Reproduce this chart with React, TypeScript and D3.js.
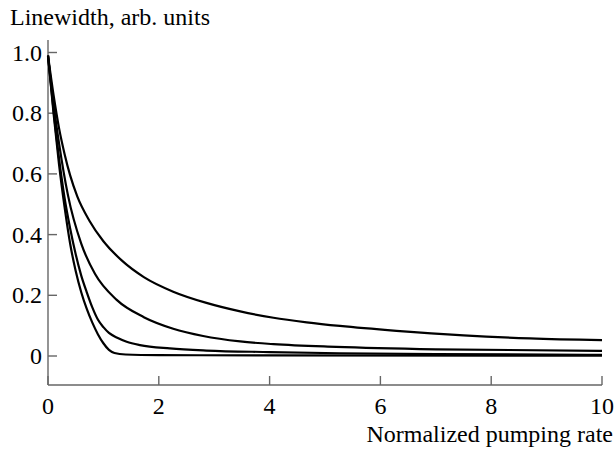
import React from "react";
import * as d3 from "d3";

const xTicks = [0, 2, 4, 6, 8, 10];
const yTicks = [0, 0.2, 0.4, 0.6, 0.8, 1.0];
const yTickLabels = ["0", "0.2", "0.4", "0.6", "0.8", "1.0"];
const xTitle = "Normalized pumping rate";
const yTitle = "Linewidth, arb. units";

const curve1X = [0, 0.1, 0.2, 0.3, 0.4, 0.53, 0.75, 1.0, 1.33, 1.73, 2.26, 2.86, 3.47, 4.07, 4.67, 5.27, 6.29, 7.5, 8.7, 10];
const curve1Y = [0.99, 0.86, 0.75, 0.665, 0.595, 0.525, 0.445, 0.378, 0.315, 0.26, 0.212, 0.175, 0.147, 0.126, 0.111, 0.099, 0.083, 0.068, 0.058, 0.052];

const curve2X = [0, 0.1, 0.2, 0.36, 0.6, 0.85, 1.24, 1.73, 2.26, 2.8, 3.47, 4.07, 5.2, 7, 10];
const curve2Y = [0.99, 0.83, 0.7, 0.53, 0.37, 0.27, 0.185, 0.128, 0.09, 0.066, 0.048, 0.039, 0.03, 0.022, 0.017];

const curve3X = [0, 0.1, 0.2, 0.3, 0.4, 0.5, 0.6, 0.7, 0.8, 0.9, 1.0, 1.1, 1.25, 1.42, 1.66, 2.2, 2.86, 4, 5.27, 7, 10];
const curve3Y = [0.99, 0.81, 0.65, 0.52, 0.42, 0.335, 0.265, 0.21, 0.16, 0.12, 0.095, 0.076, 0.06, 0.047, 0.036, 0.025, 0.018, 0.013, 0.009, 0.006, 0.004];

const curve4X = [0, 0.1, 0.2, 0.3, 0.4, 0.5, 0.6, 0.7, 0.8, 0.9, 1.0, 1.1, 1.2, 1.4, 2, 4, 10];
const curve4Y = [0.99, 0.8, 0.63, 0.49, 0.37, 0.28, 0.21, 0.155, 0.11, 0.072, 0.042, 0.02, 0.01, 0.005, 0.003, 0.002, 0.001];

const series = [
  { xs: curve1X, ys: curve1Y },
  { xs: curve2X, ys: curve2Y },
  { xs: curve3X, ys: curve3Y },
  { xs: curve4X, ys: curve4Y },
];

const Y_AXIS_MIN = -0.0955;
const Y_AXIS_MAX = 1.041;

export default function App() {
  const W = 616;
  const H = 451;
  const x = d3.scaleLinear().domain([0, 10]).range([48, 602]);
  const y = d3.scaleLinear().domain([0, 1]).range([356, 52.5]);
  const line = d3
    .line<[number, number]>()
    .x((d) => x(d[0]))
    .y((d) => y(d[1]))
    .curve(d3.curveMonotoneX);

  const axisColor = "#666";
  const font = "'Liberation Serif', 'Times New Roman', serif";
  const yBottom = y(Y_AXIS_MIN);
  const yTop = y(Y_AXIS_MAX);

  return (
    <svg
      width={W}
      height={H}
      style={{ position: "absolute", left: 0, top: 0, background: "#fff" }}
      fontFamily={font}
    >
      <rect x={0} y={0} width={W} height={H} fill="#fff" />
      <line x1={x(0)} x2={x(0)} y1={yTop} y2={yBottom} stroke={axisColor} strokeWidth={1.4} />
      <line x1={x(0)} x2={x(10)} y1={yBottom} y2={yBottom} stroke={axisColor} strokeWidth={1.4} />
      {yTicks.map((t, i) => (
        <g key={"y" + i}>
          <line x1={x(0)} x2={x(0) + 9} y1={y(t)} y2={y(t)} stroke={axisColor} strokeWidth={1.4} />
          <text x={42} y={y(t) + 8} textAnchor="end" fontSize={24} fill="#000">
            {yTickLabels[i]}
          </text>
        </g>
      ))}
      {xTicks.map((t, i) => (
        <g key={"x" + i}>
          <line x1={x(t)} x2={x(t)} y1={yBottom} y2={yBottom - 9} stroke={axisColor} strokeWidth={1.4} />
          <text x={x(t)} y={413.5} textAnchor="middle" fontSize={24} fill="#000">
            {String(t)}
          </text>
        </g>
      ))}
      {series.map((s, i) => (
        <path
          key={"s" + i}
          d={line(s.xs.map((v, j) => [v, s.ys[j]] as [number, number])) || ""}
          fill="none"
          stroke="#000"
          strokeWidth={2.2}
        />
      ))}
      <text x={10} y={25} fontSize={24} fill="#000">
        {yTitle}
      </text>
      <text x={613} y={442} textAnchor="end" fontSize={24} fill="#000">
        {xTitle}
      </text>
    </svg>
  );
}
